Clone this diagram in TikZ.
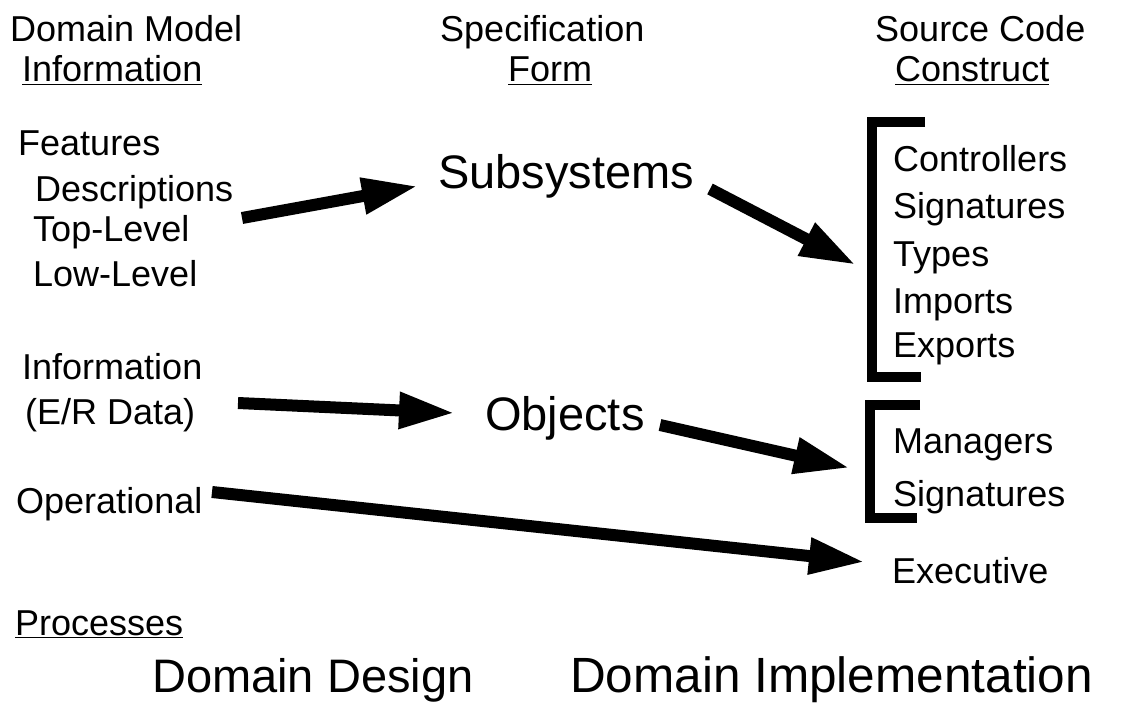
\documentclass[tikz,border=0pt]{standalone}
\usepackage{fontspec}
\setmainfont{Liberation Sans}
\usetikzlibrary{positioning,arrows.meta}

\tikzset{
	lbl/.style={anchor=base west,inner sep=0pt,font=\fontsize{36}{43}\selectfont},
	biglbl/.style={anchor=base west,inner sep=0pt,font=\fontsize{47}{56}\selectfont},
	fatarrow/.style={-{Triangle[length=56pt,width=34pt]},line width=12pt},
	bracket/.style={line width=10pt}
}

\begin{document}
\begin{tikzpicture}[x=1pt,y=-1pt]
				\useasboundingbox (0,0) rectangle (1131,706);
				% Column headings
				\node [lbl] (dmhead) at (10,42) {Domain Model};
				\node [lbl] (dminfo) at (22,82) {\underline{Information}};
				\node [lbl] (spechead) at (440,42) {Specification};
				\node [lbl] (specform) at (508,82) {\underline{Form}};
				\node [lbl] (srchead) at (875,42) {Source Code};
				\node [lbl] (srccon) at (895,82) {\underline{Construct}};
				% Domain model items
				\node [lbl] (features) at (18,155) {Features};
				\node [lbl] (descr) at (35,201) {Descriptions};
				\node [lbl] (toplevel) at (33,241) {Top-Level};
				\node [lbl] (lowlevel) at (33,286) {Low-Level};
				\node [lbl] (info) at (22,379) {Information};
				\node [lbl] (erdata) at (25,424) {(E/R Data)};
				\node [lbl] (oper) at (16,513) {Operational};
				% Specification forms
				\node [biglbl] (subsys) at (438,188) {Subsystems};
				\node [biglbl] (objects) at (485,430) {Objects};
				% Source code constructs
				\node [lbl] (ctrl) at (893,171) {Controllers};
				\node [lbl] (sig1) at (893,218) {Signatures};
				\node [lbl] (types) at (893,266) {Types};
				\node [lbl] (imports) at (893,313) {Imports};
				\node [lbl] (exports) at (893,357) {Exports};
				\node [lbl] (mgrs) at (893,453) {Managers};
				\node [lbl] (sig2) at (893,506) {Signatures};
				\node [lbl] (exec) at (892,583) {Executive};
				% Processes
				\node [lbl] (proc) at (15,635) {\underline{Processes}};
				\node [biglbl] (ddesign) at (152,692) {Domain Design};
				\node [biglbl,font=\fontsize{49.5}{58}\selectfont] (dimpl) at (570,692) {Domain Implementation};
				% Brackets
				\draw[bracket] (925,122) -- (872,122) -- (872,377) -- (921,377);
				\draw[bracket] (920,405) -- (870,405) -- (870,518) -- (917,518);
				% Arrow end points
				\coordinate [] (a1s) at (242,218);
				\coordinate [] (a1e) at (418,186);
				\coordinate [] (a2s) at (710,189);
				\coordinate [] (a2e) at (856,265);
				\coordinate [] (a3s) at (238,403);
				\coordinate [] (a3e) at (455,413);
				\coordinate [] (a4s) at (660,425);
				\coordinate [] (a4e) at (850,468);
				\coordinate [] (a5s) at (212,492);
				\coordinate [] (a5e) at (865,562);
				\path[fatarrow] (a1s) edge (a1e);
				\path[fatarrow] (a2s) edge (a2e);
				\path[fatarrow] (a3s) edge (a3e);
				\path[fatarrow] (a4s) edge (a4e);
				\path[fatarrow] (a5s) edge (a5e);
			\end{tikzpicture}
\end{document}
